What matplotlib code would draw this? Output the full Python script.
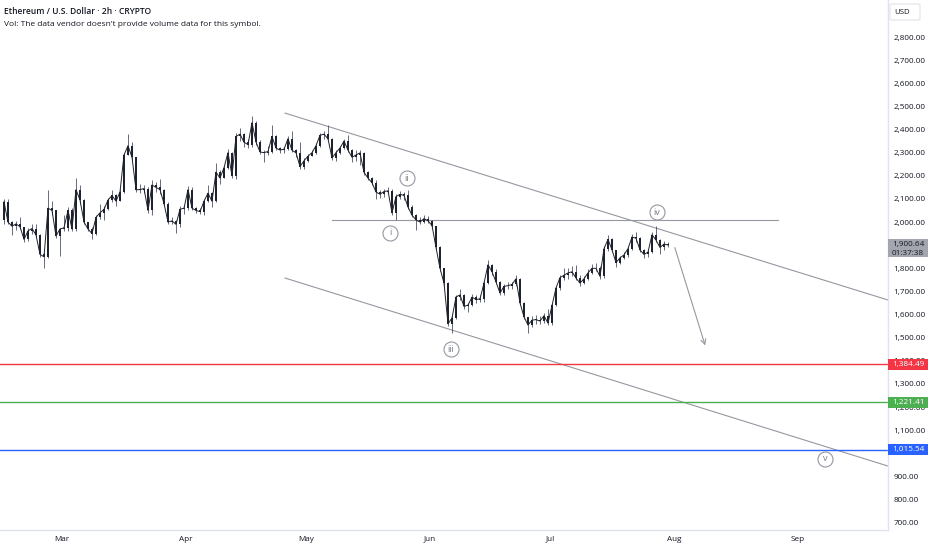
"""
ETH/USD 2h chart with Elliott wave count, falling channel and target levels.
"""

import numpy as np
import matplotlib
matplotlib.use('Agg')
import matplotlib.pyplot as plt
import matplotlib.dates as mdates
from matplotlib.patches import Rectangle, FancyBboxPatch
from matplotlib.transforms import blended_transform_factory

plt.rcParams['font.family'] = ['Open Sans', 'DejaVu Sans']

# Daily OHLC (first bar on 2023-02-14)
start_day = np.datetime64('2023-02-14T12:00')
first_open = 2010
close = [2088, 2000, 1982, 1992, 1980, 1925, 1962, 1972, 1944, 1860,
         1850, 2060, 2050, 1940, 1970, 1975, 2050, 1970, 2140, 2095,
         2000, 1970, 1950, 2020, 2040, 2055, 2095, 2115, 2090, 2130,
         2290, 2330, 2280, 2140, 2140, 2145, 2050, 2160, 2150, 2140,
         2080, 2000, 2005, 1990, 2055, 2060, 2140, 2060, 2050, 2045,
         2090, 2125, 2090, 2216, 2190, 2235, 2300, 2200, 2370, 2380,
         2345, 2335, 2430, 2346, 2303, 2300, 2305, 2370, 2320, 2311,
         2315, 2360, 2310, 2300, 2240, 2265, 2285, 2300, 2330, 2375,
         2380, 2360, 2277, 2300, 2320, 2350, 2311, 2280, 2290, 2299,
         2215, 2190, 2170, 2130, 2120, 2132, 2135, 2040, 2110, 2120,
         2115, 2065, 2030, 2009, 2000, 2015, 2005, 1985, 1890, 1800,
         1736, 1560, 1585, 1676, 1685, 1635, 1641, 1675, 1665, 1668,
         1736, 1815, 1785, 1741, 1693, 1722, 1725, 1730, 1755, 1650,
         1590, 1555, 1576, 1578, 1572, 1595, 1563, 1640, 1715, 1760,
         1770, 1780, 1785, 1758, 1736, 1755, 1780, 1800, 1800, 1765,
         1885, 1925, 1880, 1825, 1845, 1858, 1885, 1935, 1930, 1879,
         1860, 1870, 1945, 1922, 1890, 1905, 1900.64]
high = [2098, 2100, 2005, 2005, 2020, 1980, 1975, 1990, 1990, 1950,
        1870, 2139, 2090, 2050, 1975, 2030, 2065, 2060, 2190, 2160,
        2100, 2000, 1980, 2030, 2080, 2070, 2105, 2140, 2120, 2145,
        2300, 2380, 2345, 2280, 2165, 2160, 2150, 2180, 2175, 2185,
        2145, 2085, 2020, 2010, 2070, 2075, 2155, 2150, 2065, 2060,
        2100, 2160, 2130, 2255, 2225, 2245, 2315, 2305, 2385, 2405,
        2385, 2360, 2460, 2435, 2355, 2310, 2330, 2420, 2375, 2325,
        2325, 2370, 2395, 2315, 2345, 2275, 2295, 2310, 2340, 2385,
        2395, 2420, 2365, 2310, 2330, 2360, 2375, 2315, 2310, 2310,
        2305, 2220, 2195, 2180, 2140, 2145, 2150, 2145, 2120, 2135,
        2130, 2140, 2075, 2035, 2020, 2030, 2025, 2010, 1985, 1895,
        1800, 1740, 1600, 1685, 1710, 1690, 1650, 1690, 1685, 1685,
        1745, 1835, 1820, 1795, 1745, 1730, 1740, 1740, 1770, 1760,
        1655, 1590, 1595, 1600, 1595, 1605, 1625, 1650, 1725, 1770,
        1800, 1800, 1810, 1815, 1770, 1765, 1795, 1820, 1825, 1810,
        1895, 1945, 1930, 1880, 1855, 1870, 1895, 1950, 1955, 1935,
        1885, 1880, 1955, 1985, 1925, 1920, 1915]
low = [1990, 1990, 1945, 1965, 1970, 1915, 1920, 1950, 1935, 1850,
       1800, 1845, 2030, 1930, 1855, 1960, 1960, 1960, 1960, 2080,
       1990, 1960, 1925, 1945, 2015, 2010, 2050, 2085, 2070, 2090,
       2125, 2290, 2270, 2130, 2125, 2125, 2040, 2030, 2130, 2120,
       2070, 1990, 1990, 1953, 1980, 2035, 2050, 2050, 2040, 2035,
       2030, 2085, 2065, 2085, 2165, 2190, 2230, 2190, 2185, 2350,
       2325, 2320, 2325, 2335, 2295, 2260, 2290, 2300, 2310, 2300,
       2300, 2310, 2305, 2280, 2230, 2230, 2260, 2285, 2295, 2325,
       2360, 2355, 2270, 2265, 2295, 2315, 2305, 2260, 2265, 2245,
       2205, 2180, 2160, 2100, 2105, 2110, 2120, 2030, 2010, 2100,
       2095, 2055, 2020, 1965, 1990, 1995, 1995, 1975, 1880, 1790,
       1720, 1550, 1520, 1580, 1665, 1625, 1610, 1635, 1650, 1655,
       1655, 1730, 1770, 1730, 1685, 1685, 1710, 1710, 1725, 1640,
       1580, 1520, 1545, 1560, 1560, 1565, 1555, 1555, 1635, 1705,
       1750, 1755, 1765, 1750, 1725, 1730, 1750, 1775, 1790, 1755,
       1760, 1875, 1870, 1805, 1820, 1840, 1850, 1880, 1915, 1870,
       1845, 1850, 1865, 1915, 1860, 1880, 1890]

last_price = 1900.64
countdown = '01:37:38'

# Target levels
levels = [1384.49, 1221.41, 1015.54]
level_colors = ['#f23645', '#4caf50', '#2962ff']

# Drawings
channel_dates = ['2023-04-25T18:00', '2023-09-23T12:00']
upper_prices = [2471, 1663]
lower_prices = [1758, 945]
resist_dates = ['2023-05-07T12:00', '2023-08-27T00:00']
resist_price = 2007
arrow_dates = ['2023-08-01T00:00', '2023-08-09T00:00']
arrow_prices = [1901, 1455]

waves = ['i', 'ii', 'iii', 'iv', 'v']
wave_dates = ['2023-05-22T00:00', '2023-05-26T06:00', '2023-06-06T06:00',
              '2023-07-27T18:00', '2023-09-07T18:00']
wave_prices = [1953, 2190, 1451, 2043, 976]

# Axis labels hidden behind the price tags are left out
price_ticks = [p for p in range(700, 2801, 100) if p not in (1000, 1900)]

TEXT = '#131722'
CANDLE = '#1e222d'
GREY = '#9598a1'


def dn(s):
    return mdates.date2num(np.datetime64(s))


W, H = 932, 550
fig = plt.figure(figsize=(W / 100, H / 100), dpi=100)
ax = fig.add_axes([0, 20 / H, 888 / W, 530 / H])

n = len(close)
dates = mdates.date2num(start_day + np.arange(n) * np.timedelta64(1, 'D'))
c = np.array(close, dtype=float)
o = np.r_[first_open, c[:-1]]
hi = np.maximum(np.array(high, dtype=float), np.maximum(o, c))
lo = np.minimum(np.array(low, dtype=float), np.minimum(o, c))

# candles: wicks, thin bodies and a close line to mimic the dense 2h bars
ax.vlines(dates, lo, hi, color='#50535e', lw=0.6, zorder=3)
body = np.where(np.abs(c - o) < 3, 3, c - o)
ax.bar(dates, body, bottom=o, width=0.4, color=CANDLE, lw=0, zorder=3)
ax.plot(dates, c, color=CANDLE, lw=0.7, zorder=3)

# Channel, resistance and projection arrow
cd = [dn(d) for d in channel_dates]
ax.plot(cd, upper_prices, color=GREY, lw=0.8, zorder=2)
ax.plot(cd, lower_prices, color=GREY, lw=0.8, zorder=2)
ax.plot([dn(d) for d in resist_dates], [resist_price] * 2, color=GREY, lw=0.8, zorder=2)
ax.annotate('', xy=(dn(arrow_dates[1]), arrow_prices[1]),
            xytext=(dn(arrow_dates[0]), arrow_prices[0]),
            arrowprops=dict(arrowstyle='->', color=GREY, lw=0.8, mutation_scale=9))

# Wave labels
for label, d, p in zip(waves, wave_dates, wave_prices):
    ax.plot(dn(d), p, 'o', ms=10.8, mfc='white', mec=GREY, mew=0.8, zorder=6)
    ax.text(dn(d), p, label, ha='center', va='center', fontsize=6.5,
            color='#787b86', zorder=7)

# Horizontal target levels with axis labels
trans = blended_transform_factory(ax.transAxes, ax.transData)
box_w = 40 / 888
for lvl, col in zip(levels, level_colors):
    ax.axhline(lvl, color=col, lw=1.0, zorder=2)
    ax.add_patch(Rectangle((1.0, lvl - 24), box_w, 48, transform=trans,
                           fc=col, ec='none', clip_on=False, zorder=8))
    ax.text(1.0 + box_w / 2, lvl, f'{lvl:,.2f}', transform=trans, ha='center',
            va='center', fontsize=5.9, color='white', zorder=9, clip_on=False)

# Last price tag
ax.add_patch(Rectangle((1.0, 1849), box_w, 78, transform=trans, fc='#a3a6af',
                       ec='none', clip_on=False, zorder=8))
ax.text(1.0 + box_w / 2, 1905, f'{last_price:,.2f}', transform=trans, ha='center',
        va='center', fontsize=5.9, color=TEXT, zorder=9, clip_on=False)
ax.text(1.0 + box_w / 2, 1866, countdown, transform=trans, ha='center',
        va='center', fontsize=5.9, color=TEXT, zorder=9, clip_on=False)

# Axes
ax.set_xlim(dn('2023-02-13T12:00'), dn('2023-09-23T12:00'))
ax.set_ylim(668.6, 2960)
ax.yaxis.tick_right()
ax.set_yticks(price_ticks)
ax.set_yticklabels([f'{v:,.2f}' for v in price_ticks])
ax.tick_params(axis='y', length=0, pad=4, labelsize=5.9, colors=TEXT)
ax.xaxis.set_major_locator(mdates.MonthLocator())
ax.xaxis.set_major_formatter(mdates.DateFormatter('%b'))
ax.tick_params(axis='x', length=0, pad=4, labelsize=5.9, colors=TEXT)
for side in ['top', 'left']:
    ax.spines[side].set_visible(False)
for side in ['right', 'bottom']:
    ax.spines[side].set_color('#e0e3eb')
    ax.spines[side].set_linewidth(1.0)

# Header and currency box
fig.text(4 / W, 1 - 12 / H, 'Ethereum / U.S. Dollar · 2h · CRYPTO', fontsize=6.1,
         fontweight='semibold', color=TEXT, va='center')
fig.text(4 / W, 1 - 24 / H, "Vol: The data vendor doesn't provide volume data for this symbol.",
         fontsize=6.0, color=TEXT, va='center')
fig.add_artist(FancyBboxPatch((890 / W, 1 - 20 / H), 30 / W, 16 / H,
                              boxstyle='round,pad=0,rounding_size=0.003',
                              transform=fig.transFigure, fc='white', ec='#e0e3eb', lw=0.8))
fig.text(894 / W, 1 - 12 / H, 'USD', fontsize=5.6, color=TEXT, va='center')

fig.savefig('out.png', dpi=100)
